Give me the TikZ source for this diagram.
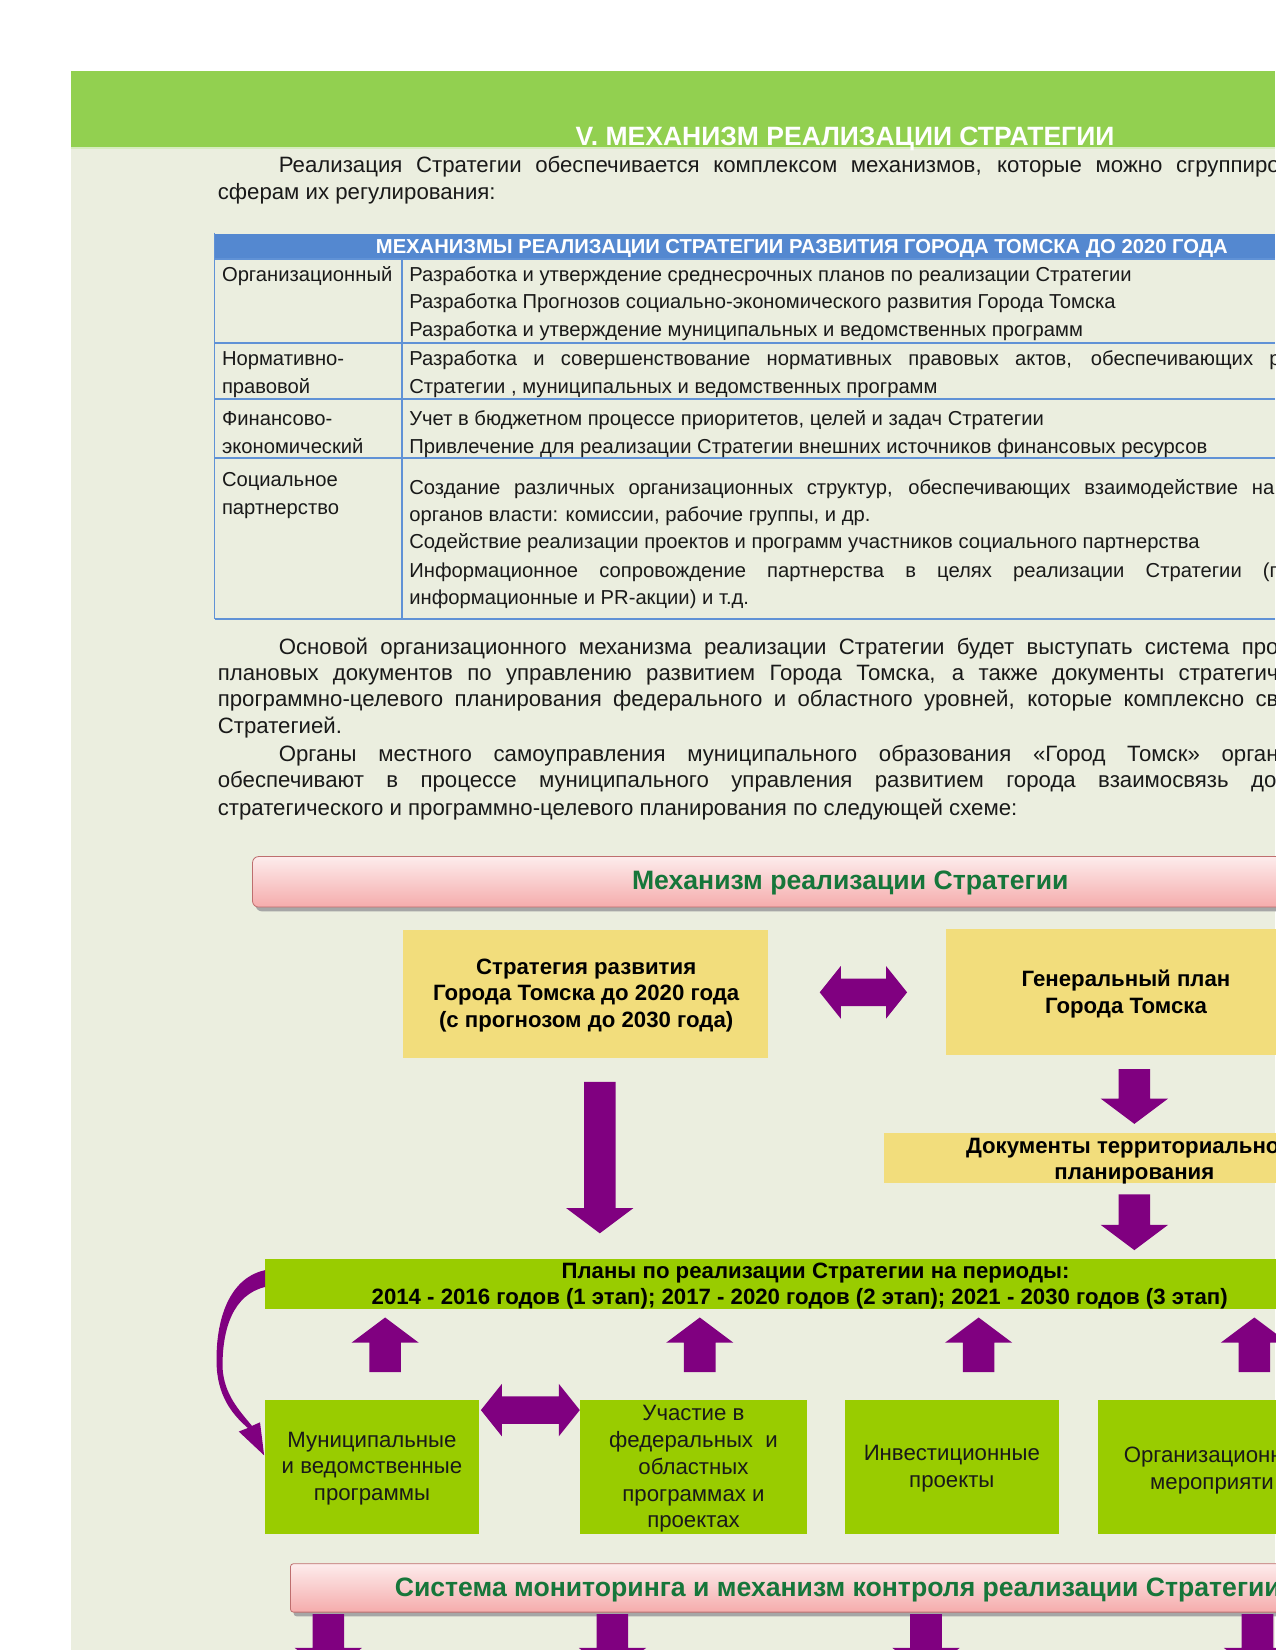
\documentclass[tikz,border=0pt]{standalone}
\usepackage{fontspec}
\setmainfont{Liberation Sans}
\usetikzlibrary{fit}
\definecolor{pagebg}{RGB}{235,238,223}
\definecolor{headgreen}{RGB}{146,208,80}
\definecolor{stripgreen}{RGB}{214,236,190}
\definecolor{tblue}{RGB}{84,136,208}
\definecolor{tline}{RGB}{96,146,214}
\definecolor{apurple}{RGB}{128,0,128}
\definecolor{yellowbox}{RGB}{242,221,124}
\definecolor{greenbox}{RGB}{153,204,0}
\definecolor{pinktop}{RGB}{253,236,236}
\definecolor{pinkbot}{RGB}{245,172,172}
\definecolor{pinkedge}{RGB}{190,110,110}
\definecolor{dgreen}{RGB}{22,118,58}
\definecolor{txt}{RGB}{25,25,25}
% justified line of given width (in picture units)
\newcommand\jl[2]{\hbox to \dimexpr #1pt*1052/1000\relax{\spaceskip=0.27em plus 1fil\relax #2}}
\newcommand\fpar{\fontsize{22.2}{26}\selectfont}
\newcommand\ftab{\fontsize{20.2}{24}\selectfont}
\newcommand\fdia{\fontsize{22.2}{26.8}\selectfont}
% vertical block arrow: cx, ytail, ytip
\newcommand\varr[3]{%
  \pgfmathsetmacro\hb{#3-24*sign(#3-#2)}%
  \fill[apurple] ({#1-15},#2) -- ({#1+15},#2) -- ({#1+15},\hb) -- ({#1+32},\hb) -- (#1,#3) -- ({#1-32},\hb) -- ({#1-15},\hb) -- cycle;}
% horizontal double block arrow: x1, x2, cy
\newcommand\harr[3]{%
  \fill[apurple] (#1,#3) -- ({#1+20},{#3-25}) -- ({#1+20},{#3-13}) -- ({#2-20},{#3-13}) -- ({#2-20},{#3-25}) -- (#2,#3) -- ({#2-20},{#3+25}) -- ({#2-20},{#3+13}) -- ({#1+20},{#3+13}) -- ({#1+20},{#3+25}) -- cycle;}
\tikzset{
  ptxt/.style={inner sep=0pt, outer sep=0pt, font=\fpar, text=txt},
  ttxt/.style={inner sep=0pt, outer sep=0pt, font=\ftab, text=txt},
  dbold/.style={inner sep=0pt, outer sep=0pt, font=\fdia\bfseries, text=black, align=center},
  dnorm/.style={inner sep=0pt, outer sep=0pt, font=\fdia, text=txt, align=center},
  ybox/.style={fill=yellowbox, draw=none, inner sep=0pt},
  gbox/.style={fill=greenbox, draw=none, inner sep=0pt},
  tl/.style={draw=tline, line width=1.6pt},
  pinktxt/.style={inner sep=0pt, font=\fontsize{26.6}{30}\selectfont\bfseries, text=dgreen},
}
\begin{document}
\begin{tikzpicture}[x=1.052pt,y=-1.052pt]
\useasboundingbox (0,0) rectangle (1212,1568);
\fill[white] (0,0) rectangle (1212,1568);
\fill[pagebg] (67,140) rectangle (1212,1568);
\fill[headgreen] (67,67) rectangle (1212,140);
\fill[stripgreen] (67,140) rectangle (1212,142);
\node[inner sep=0pt, anchor=base, text=white, font=\fontsize{26.5}{30}\selectfont\bfseries] (title) at (803,138.5) {V. МЕХАНИЗМ РЕАЛИЗАЦИИ СТРАТЕГИИ};

% paragraph 1
\node[ptxt, anchor=base west] (p1a) at (265,164) {\jl{951}{Реализация Стратегии обеспечивается комплексом механизмов, которые можно сгруппиро}};
\node[ptxt, anchor=base west] (p1b) at (207,190) {сферам их регулирования:};

% table
\fill[tblue] (204,222) rectangle (1212,246);
\node[inner sep=0pt, anchor=base, text=white, font=\fontsize{20.2}{24}\selectfont\bfseries] (th) at (762,240.5) {МЕХАНИЗМЫ РЕАЛИЗАЦИИ СТРАТЕГИИ РАЗВИТИЯ ГОРОДА ТОМСКА ДО 2020 ГОДА};
\draw[tl] (204,221) -- (204,588);
\draw[tl] (382,246) -- (382,588);
\foreach \yy in {246,326,379,435,588} \draw[tl] (204,\yy) -- (1212,\yy);
\node[ttxt, anchor=base west] (c1) at (211,267.5) {Организационный};
\node[ttxt, anchor=base west] (c2a) at (211,347.5) {Нормативно-};
\node[ttxt, anchor=base west] (c2b) at (211,373.5) {правовой};
\node[ttxt, anchor=base west] (c3a) at (211,404.5) {Финансово-};
\node[ttxt, anchor=base west] (c3b) at (211,430.5) {экономический};
\node[ttxt, anchor=base west] (c4a) at (211,462.5) {Социальное};
\node[ttxt, anchor=base west] (c4b) at (211,488.5) {партнерство};
\node[ttxt, anchor=base west] (r1a) at (389,267.5) {Разработка и утверждение среднесрочных планов по реализации Стратегии};
\node[ttxt, anchor=base west] (r1b) at (389,293.5) {Разработка Прогнозов социально-экономического развития Города Томска};
\node[ttxt, anchor=base west] (r1c) at (389,319.5) {Разработка и утверждение муниципальных и ведомственных программ};
\node[ttxt, anchor=base west] (r2a) at (389,347.5) {\jl{828}{Разработка и совершенствование нормативных правовых актов, обеспечивающих р}};
\node[ttxt, anchor=base west] (r2b) at (389,373.5) {Стратегии , муниципальных и ведомственных программ};
\node[ttxt, anchor=base west] (r3a) at (389,404.5) {Учет в бюджетном процессе приоритетов, целей и задач Стратегии};
\node[ttxt, anchor=base west] (r3b) at (389,430.5) {Привлечение для реализации Стратегии внешних источников финансовых ресурсов};
\node[ttxt, anchor=base west] (r4a) at (389,469.5) {\jl{822}{Создание различных организационных структур, обеспечивающих взаимодействие на}};
\node[ttxt, anchor=base west] (r4b) at (389,495.5) {органов власти: комиссии, рабочие группы, и др.};
\node[ttxt, anchor=base west] (r4c) at (389,521.5) {Содействие реализации проектов и программ участников социального партнерства};
\node[ttxt, anchor=base west] (r4d) at (389,548.5) {\jl{828}{Информационное сопровождение партнерства в целях реализации Стратегии (п}};
\node[ttxt, anchor=base west] (r4e) at (389,574.5) {информационные и PR-акции) и т.д.};

% paragraph 2
\node[ptxt, anchor=base west] (p2a) at (265,621.5) {\jl{950}{Основой организационного механизма реализации Стратегии будет выступать система про}};
\node[ptxt, anchor=base west] (p2b) at (207,646.5) {\jl{1008}{плановых документов по управлению развитием Города Томска, а также документы стратегич}};
\node[ptxt, anchor=base west] (p2c) at (207,671.5) {\jl{1008}{программно-целевого планирования федерального и областного уровней, которые комплексно св}};
\node[ptxt, anchor=base west] (p2d) at (207,697.5) {Стратегией.};
\node[ptxt, anchor=base west] (p2e) at (265,723.5) {\jl{950}{Органы местного самоуправления муниципального образования «Город Томск» орган}};
\node[ptxt, anchor=base west] (p2f) at (207,748.5) {\jl{1006}{обеспечивают в процессе муниципального управления развитием города взаимосвязь до}};
\node[ptxt, anchor=base west] (p2g) at (207,774.5) {стратегического и программно-целевого планирования по следующей схеме:};

% pink bar 1
\fill[black!35, rounded corners=6pt] (243,818) rectangle (1240,866);
\shade[top color=pinktop, bottom color=pinkbot, rounded corners=6pt] (240,814) rectangle (1240,862);
\draw[pinkedge, line width=0.8pt, rounded corners=6pt] (240,814) rectangle (1240,862);
\node[pinktxt, anchor=base] (mech) at (808,845.5) {Механизм реализации Стратегии};

% yellow boxes
\node[ybox, fit={(383,884) (730,1005)}] (strat) {};
\node[dbold] (stratt) at (557,946) {Стратегия развития\\Города Томска до 2020 года\\(с прогнозом до 2030 года)};
\node[ybox, fit={(899,883) (1240,1003)}] (gen) {};
\node[dbold] (gent) at (1070,944.5) {Генеральный план\\Города Томска};
\node[ybox, fit={(840,1077) (1240,1124)}] (terr) {};
\node[dbold, anchor=base west] (terra) at (918,1096) {Документы территориально};
\node[dbold, anchor=base] (terrb) at (1078,1121) {планирования};

% arrows in upper diagram
\harr{779}{862}{943}
\varr{570}{1028}{1172}
\varr{1078}{1016}{1068}
\varr{1078}{1135}{1188}

% green plans bar
\node[gbox, fit={(252,1196) (1240,1244)}] (plans) {};
\node[dbold, anchor=base] (plansa) at (775,1215) {Планы по реализации Стратегии на периоды:};
\node[dbold, anchor=base] (plansb) at (760,1240) {2014 - 2016 годов (1 этап); 2017 - 2020 годов (2 этап); 2021 - 2030 годов (3 этап)};

% up arrows
\varr{366}{1304}{1252}
\varr{665}{1304}{1252}
\varr{930}{1304}{1252}
\varr{1192}{1304}{1252}

% curved arrow
\fill[apurple] (252,1207) .. controls (215,1215) and (204,1260) .. (206,1300)
  .. controls (208,1330) and (223,1346) .. (235.5,1357)
  -- (226.9,1360.4) -- (251,1383) -- (247.1,1351.6) -- (239.5,1355)
  .. controls (227,1340) and (213,1325) .. (211.5,1300)
  .. controls (211,1262) and (222,1230) .. (252,1223) -- cycle;

% green boxes
\node[gbox, fit={(252,1330) (455,1458)}] (mun) {};
\node[dnorm] (munt) at (353.5,1395.5) {Муниципальные\\и ведомственные\\программы};
\node[gbox, fit={(551,1330) (767,1458)}] (fed) {};
\node[dnorm] (fedt) at (659,1396) {Участие в\\федеральных\ \ и\\областных\\программах и\\проектах};
\node[gbox, fit={(803,1330) (1006,1458)}] (inv) {};
\node[dnorm] (invt) at (904.5,1395.5) {Инвестиционные\\проекты};
\node[gbox, fit={(1043,1330) (1240,1458)}] (org) {};
\node[dnorm, anchor=base west] (orga) at (1068,1390) {Организационн};
\node[dnorm, anchor=base west] (orgb) at (1093,1415.5) {мероприяти};
\harr{457}{551}{1340}

% pink bar 2
\fill[black!35, rounded corners=3pt] (279,1490) rectangle (1240,1536);
\shade[top color=pinktop, bottom color=pinkbot, rounded corners=3pt] (276,1486) rectangle (1240,1532);
\draw[pinkedge, line width=0.8pt, rounded corners=3pt] (276,1486) rectangle (1240,1532);
\node[pinktxt, anchor=base west] (mon) at (375,1517.5) {Система мониторинга и механизм контроля реализации Стратегии};

% bottom arrows
\varr{312}{1534}{1590}
\varr{582}{1534}{1590}
\varr{880}{1534}{1590}
\varr{1195}{1534}{1590}
\end{tikzpicture}
\end{document}
